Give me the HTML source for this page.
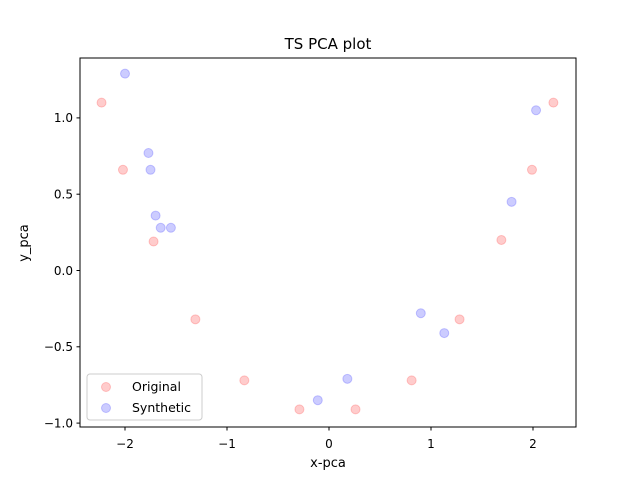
<!DOCTYPE html>
<html><head><meta charset="utf-8"><style>body{margin:0;background:#fff}svg{font-family:"DejaVu Sans","Liberation Sans",sans-serif}</style></head>
<body>
<svg id="c" width="640" height="480" xmlns="http://www.w3.org/2000/svg">
<rect width="640" height="480" fill="#fff"/>
<text x="328" y="49" font-size="15" text-anchor="middle">TS PCA plot</text>
<text x="328" y="467" font-size="13" text-anchor="middle">x-pca</text>
<text x="0" y="0" font-size="13" text-anchor="middle" transform="translate(28,243) rotate(-90)">y_pca</text>
<g id="ticks"></g>
<g id="marks"></g>
<rect x="80" y="58" width="496" height="369" fill="none" stroke="#000" stroke-width="1"/>
<g>
<rect x="87" y="374" width="115" height="46" rx="3" fill="#fff" fill-opacity="0.8" stroke="#ccc"/>
<g><circle cx="106" cy="387" r="4.5" fill="red" fill-opacity="0.2" stroke="red" stroke-opacity="0.2"/><text x="132" y="391" font-size="12.5">Original</text></g>
<g><circle cx="106" cy="408" r="4.5" fill="blue" fill-opacity="0.2" stroke="blue" stroke-opacity="0.2"/><text x="132" y="412" font-size="12.5">Synthetic</text></g>
</g>
</svg>
<script>
const origX=[-2.23,-2.02,-1.72,-1.31,-0.83,-0.29,0.26,0.81,1.28,1.69,1.99,2.20];
const origY=[1.10,0.66,0.19,-0.32,-0.72,-0.91,-0.91,-0.72,-0.32,0.20,0.66,1.10];
const synX=[-2.0,-1.77,-1.75,-1.70,-1.65,-1.55,-0.11,0.18,0.90,1.13,1.79,2.03];
const synY=[1.29,0.77,0.66,0.36,0.28,0.28,-0.85,-0.71,-0.28,-0.41,0.45,1.05];
const xTicks=[-2,-1,0,1,2];
const yTicks=[-1.0,-0.5,0.0,0.5,1.0];
const xLabels=["−2","−1","0","1","2"];
const yLabels=["−1.0","−0.5","0.0","0.5","1.0"];
const NS="http://www.w3.org/2000/svg";
function sx(v){return 329+v*102;}
function sy(v){return 270.5-v*152.6;}
const tg=document.getElementById('ticks'),mg=document.getElementById('marks');
function mk(t,a,p){const e=document.createElementNS(NS,t);for(const k in a)e.setAttribute(k,a[k]);p.appendChild(e);return e;}
xTicks.forEach((v,i)=>{const x=sx(v);
const l=mk('line',{x1:x,x2:x,y1:427,y2:430.5,stroke:'#000'},tg);


const t=mk('text',{x:x,y:448,'font-size':12,'text-anchor':'middle'},tg);t.textContent=xLabels[i];

});
yTicks.forEach((v,i)=>{const y=sy(v);
const l=mk('line',{x1:76.5,x2:80,y1:y,y2:y,stroke:'#000'},tg);


const t=mk('text',{x:73,y:y+4.3,'font-size':12,'text-anchor':'end'},tg);t.textContent=yLabels[i];

});
function series(X,Y,c,n){X.forEach((v,i)=>{const e=mk('circle',{cx:sx(v),cy:sy(Y[i]),r:4.5,fill:c,'fill-opacity':0.2,stroke:c,'stroke-opacity':0.2},mg);

});}
series(origX,origY,'red','original-point');
series(synX,synY,'blue','synthetic-point');
</script>
</body></html>
